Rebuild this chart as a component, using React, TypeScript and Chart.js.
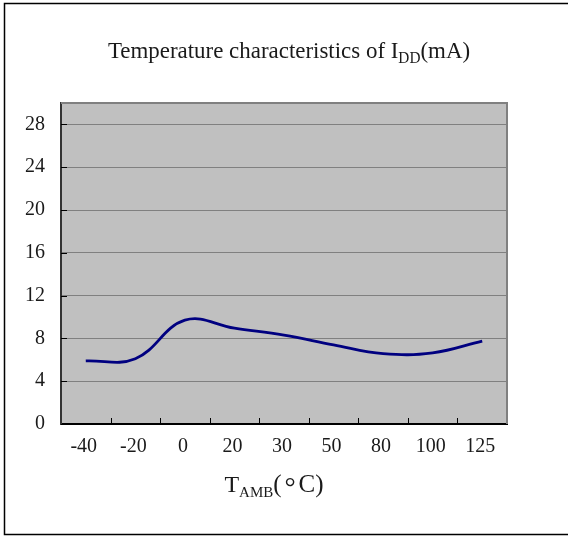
import React, { useEffect, useRef } from "react";
import { Chart, registerables } from "chart.js";

Chart.register(...registerables);

const temperatures = ["-40", "-20", "0", "20", "30", "50", "80", "100", "125"];
const iddValues = [5.9, 6.1, 9.7, 8.95, 8.3, 7.4, 6.58, 6.65, 7.75];
const yTickStep = 4;
const yMin = 0;
const yMax = 30;

const SERIF = "'Liberation Serif', 'Times New Roman', serif";
const TEXT = "#1a1a1a";

type Part = { t: string; size: number; dy: number; adv?: number };

function drawParts(ctx: CanvasRenderingContext2D, parts: Part[], cx: number, baseline: number, sx: number) {
  const widths: number[] = [];
  let total = 0;
  for (const p of parts) {
    ctx.font = `${p.size}px ${SERIF}`;
    const w = p.adv !== undefined ? p.adv : ctx.measureText(p.t).width;
    widths.push(w);
    total += w;
  }
  ctx.save();
  ctx.translate(cx, baseline);
  ctx.scale(sx, 1);
  let x = -total / 2;
  ctx.textBaseline = "alphabetic";
  ctx.fillStyle = TEXT;
  parts.forEach((p, i) => {
    ctx.font = `${p.size}px ${SERIF}`;
    if (p.adv !== undefined) {
      ctx.textAlign = "center";
      ctx.fillText(p.t, x + widths[i] / 2, p.dy);
    } else {
      ctx.textAlign = "left";
      ctx.fillText(p.t, x, p.dy);
    }
    x += widths[i];
  });
  ctx.restore();
}

const decorPlugin = {
  id: "decor",
  beforeDraw(chart: any) {
    const { ctx, chartArea } = chart;
    ctx.save();
    ctx.fillStyle = "#ffffff";
    ctx.fillRect(0, 0, chart.width, chart.height);
    ctx.strokeStyle = "#000000";
    ctx.lineWidth = 1.5;
    ctx.strokeRect(4.5, 3.5, 700, 531);
    ctx.fillStyle = "#C0C0C0";
    ctx.fillRect(chartArea.left, chartArea.top, chartArea.right - chartArea.left, chartArea.bottom - chartArea.top);
    ctx.restore();
  },
  beforeDatasetsDraw(chart: any) {
    const { ctx, chartArea, scales } = chart;
    const xs = scales.x;
    ctx.save();
    ctx.strokeStyle = "#808080";
    ctx.lineWidth = 2;
    ctx.beginPath();
    ctx.moveTo(chartArea.left, chartArea.top);
    ctx.lineTo(chartArea.right, chartArea.top);
    ctx.lineTo(chartArea.right, chartArea.bottom);
    ctx.stroke();
    ctx.strokeStyle = "#000000";
    ctx.lineWidth = 1;
    for (let i = 1; i < temperatures.length; i++) {
      const bx = Math.round((xs.getPixelForValue(i - 1) + xs.getPixelForValue(i)) / 2) + 0.5;
      ctx.beginPath();
      ctx.moveTo(bx, chartArea.bottom);
      ctx.lineTo(bx, chartArea.bottom - 6);
      ctx.stroke();
    }
    const ys = scales.y;
    for (const t of ys.ticks) {
      const py = Math.round(ys.getPixelForValue(t.value)) + 0.5;
      ctx.beginPath();
      ctx.moveTo(chartArea.left, py);
      ctx.lineTo(chartArea.left + 6, py);
      ctx.stroke();
    }
    ctx.restore();
  },
  afterDraw(chart: any) {
    const { ctx } = chart;
    drawParts(
      ctx,
      [
        { t: "Temperature characteristics of I", size: 24, dy: 0 },
        { t: "DD", size: 16, dy: 5 },
        { t: "(mA)", size: 24, dy: 0 },
      ],
      289,
      58,
      0.955
    );
    drawParts(
      ctx,
      [
        { t: "T", size: 24, dy: 0 },
        { t: "AMB", size: 15, dy: 5 },
        { t: "(", size: 25, dy: 0 },
        { t: "°", size: 28, dy: 4, adv: 17 },
        { t: "C", size: 25, dy: 0 },
        { t: ")", size: 25, dy: 0 },
      ],
      274,
      492,
      1
    );
  },
};

export default function App() {
  const ref = useRef<HTMLCanvasElement | null>(null);
  useEffect(() => {
    if (!ref.current) return;
    const chart = new Chart(ref.current, {
      type: "line",
      data: {
        labels: temperatures,
        datasets: [
          {
            data: iddValues,
            borderColor: "#000080",
            borderWidth: 2.8,
            pointRadius: 0,
            tension: 0.4,
            fill: false,
          },
        ],
      },
      options: {
        animation: false,
        responsive: false,
        devicePixelRatio: 1,
        layout: { padding: { left: 0, top: 103, right: 61, bottom: 0 } },
        plugins: { legend: { display: false }, tooltip: { enabled: false }, title: { display: false } },
        scales: {
          x: {
            type: "category",
            offset: true,
            grid: { display: false, drawTicks: false },
            border: { display: true, color: "#000000", width: 2 },
            ticks: {
              color: TEXT,
              font: { family: SERIF, size: 20 },
              padding: 11,
              labelOffset: -2,
              maxRotation: 0,
              autoSkip: false,
            },
            afterFit: (s: any) => {
              s.height = 112;
            },
          },
          y: {
            min: yMin,
            max: yMax,
            grid: { color: "#808080", lineWidth: 1, drawTicks: false },
            border: { display: true, color: "#333333", width: 2 },
            ticks: { stepSize: yTickStep, color: TEXT, font: { family: SERIF, size: 20 }, padding: 16 },
            afterBuildTicks: (s: any) => {
              const ticks: any[] = [];
              for (let v = yMin; v < yMax; v += yTickStep) ticks.push({ value: v });
              s.ticks = ticks;
            },
            afterFit: (s: any) => {
              s.width = 61;
            },
          },
        },
      },
      plugins: [decorPlugin],
    });
    return () => chart.destroy();
  }, []);
  return (
    <div style={{ position: "fixed", left: 0, top: 0, width: 568, height: 536 }}>
      <canvas ref={ref} width={568} height={536} style={{ display: "block", width: 568, height: 536 }} />
    </div>
  );
}
